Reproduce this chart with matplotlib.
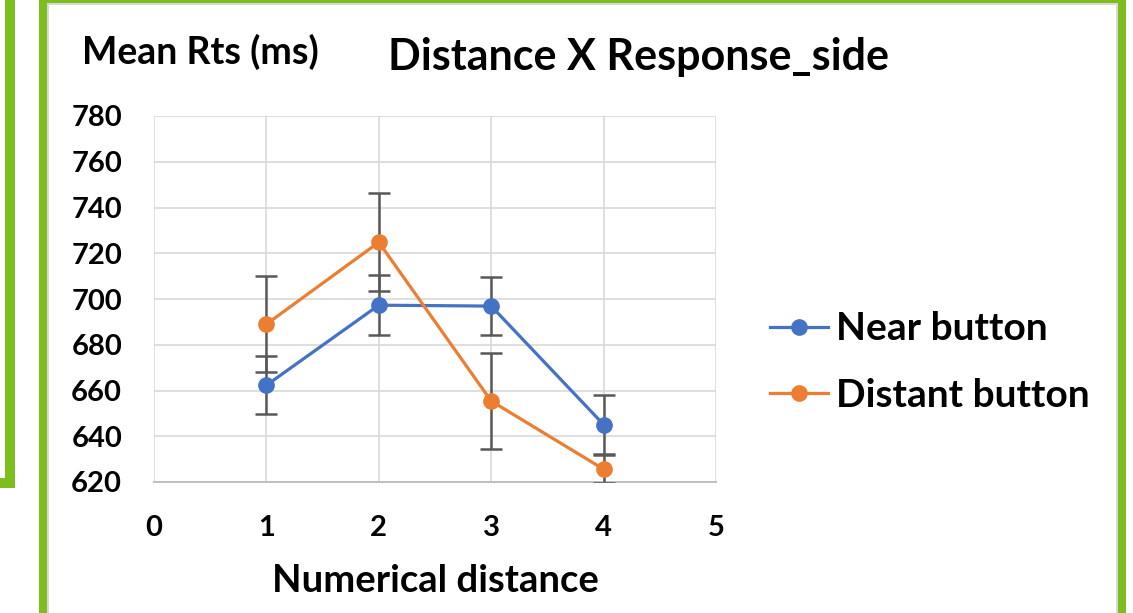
import matplotlib
matplotlib.use("Agg")
import matplotlib.pyplot as plt
from matplotlib.patches import Rectangle
from matplotlib.lines import Line2D

distance = [1, 2, 3, 4]
near_rt = [662.3, 697.3, 696.9, 645.1]
near_err = [12.6, 13.0, 12.7, 13.0]
distant_rt = [689.0, 724.8, 655.4, 625.6]
distant_err = [21.0, 21.4, 21.0, 6.2]
x_ticks = [0, 1, 2, 3, 4, 5]
y_ticks = [620, 640, 660, 680, 700, 720, 740, 760, 780]

BLUE = "#4472C4"
ORANGE = "#ED7D31"
GREEN = "#7DBE1E"
FONT = "Lato"


def main() -> None:
    fig = plt.figure(figsize=(11.33, 6.13), dpi=100)
    W, H = 1133, 613

    def box(x, y, w, h, color=GREEN):
        # pixel coords measured from top-left
        fig.add_artist(Rectangle((x / W, 1 - (y + h) / H), w / W, h / H,
                                 transform=fig.transFigure, facecolor=color,
                                 edgecolor="none"))

    # green frames
    box(5, 0, 10, 488)
    box(0, 478, 15, 10)
    box(39, 0, 8, 613)
    box(1118, 0, 8, 613)
    box(39, 0, 1087, 3)
    box(47, 3, 2, 610, "#D8D8D8")
    box(1116, 3, 2, 610, "#D8D8D8")
    box(47, 3, 1071, 2, "#D8D8D8")

    ax = fig.add_axes([154 / W, 1 - 482 / H, 562 / W, 366 / H])
    ax.set_xlim(0, 5)
    ax.set_ylim(620, 780)
    ax.set_xticks(x_ticks)
    ax.set_yticks(y_ticks)
    ax.grid(True, color="#D9D9D9", linewidth=1.2)
    ax.set_axisbelow(True)
    for side in ["top", "right", "left"]:
        ax.spines[side].set_visible(False)
    ax.spines["bottom"].set_color("#BFBFBF")
    ax.spines["bottom"].set_linewidth(1.4)
    ax.tick_params(length=0)
    ax.tick_params(axis="x", pad=24)
    ax.tick_params(axis="y", pad=23)
    for label in ax.get_xticklabels() + ax.get_yticklabels():
        label.set_fontfamily(FONT)
        label.set_fontweight("bold")
        label.set_fontsize(21)

    for y, err, color in [(near_rt, near_err, BLUE), (distant_rt, distant_err, ORANGE)]:
        ax.errorbar(distance, y, yerr=err, fmt="none", ecolor="#595959",
                    elinewidth=1.8, capsize=8, capthick=1.8, zorder=3)
        ax.plot(distance, y, color=color, linewidth=2.3, marker="o",
                markersize=11, zorder=4)

    ax.set_xlabel("Numerical distance", fontfamily=FONT, fontweight="bold", fontsize=27.5)
    ax.xaxis.set_label_coords(0.5, -0.225)

    fig.text(82 / W, 1 - 52 / H, "Mean Rts (ms)", fontfamily=FONT, fontweight="bold",
             fontsize=27, ha="left", va="center")
    fig.text(638 / W, 1 - 57 / H, "Distance X Response_side", fontfamily=FONT,
             fontweight="bold", fontsize=31, ha="center", va="center")

    handles = [Line2D([], [], color=BLUE, linewidth=2.3, marker="o", markersize=11),
               Line2D([], [], color=ORANGE, linewidth=2.3, marker="o", markersize=11)]
    fig.legend(handles, ["Near button", "Distant button"], loc="center left",
               bbox_to_anchor=(770 / W, 1 - 362 / H), frameon=False,
               prop={"family": FONT, "weight": "bold", "size": 28},
               handlelength=1.5, handletextpad=0.2, labelspacing=0.8,
               borderpad=0, borderaxespad=0)

    fig.savefig("out.png", dpi=100)


if __name__ == "__main__":
    main()
